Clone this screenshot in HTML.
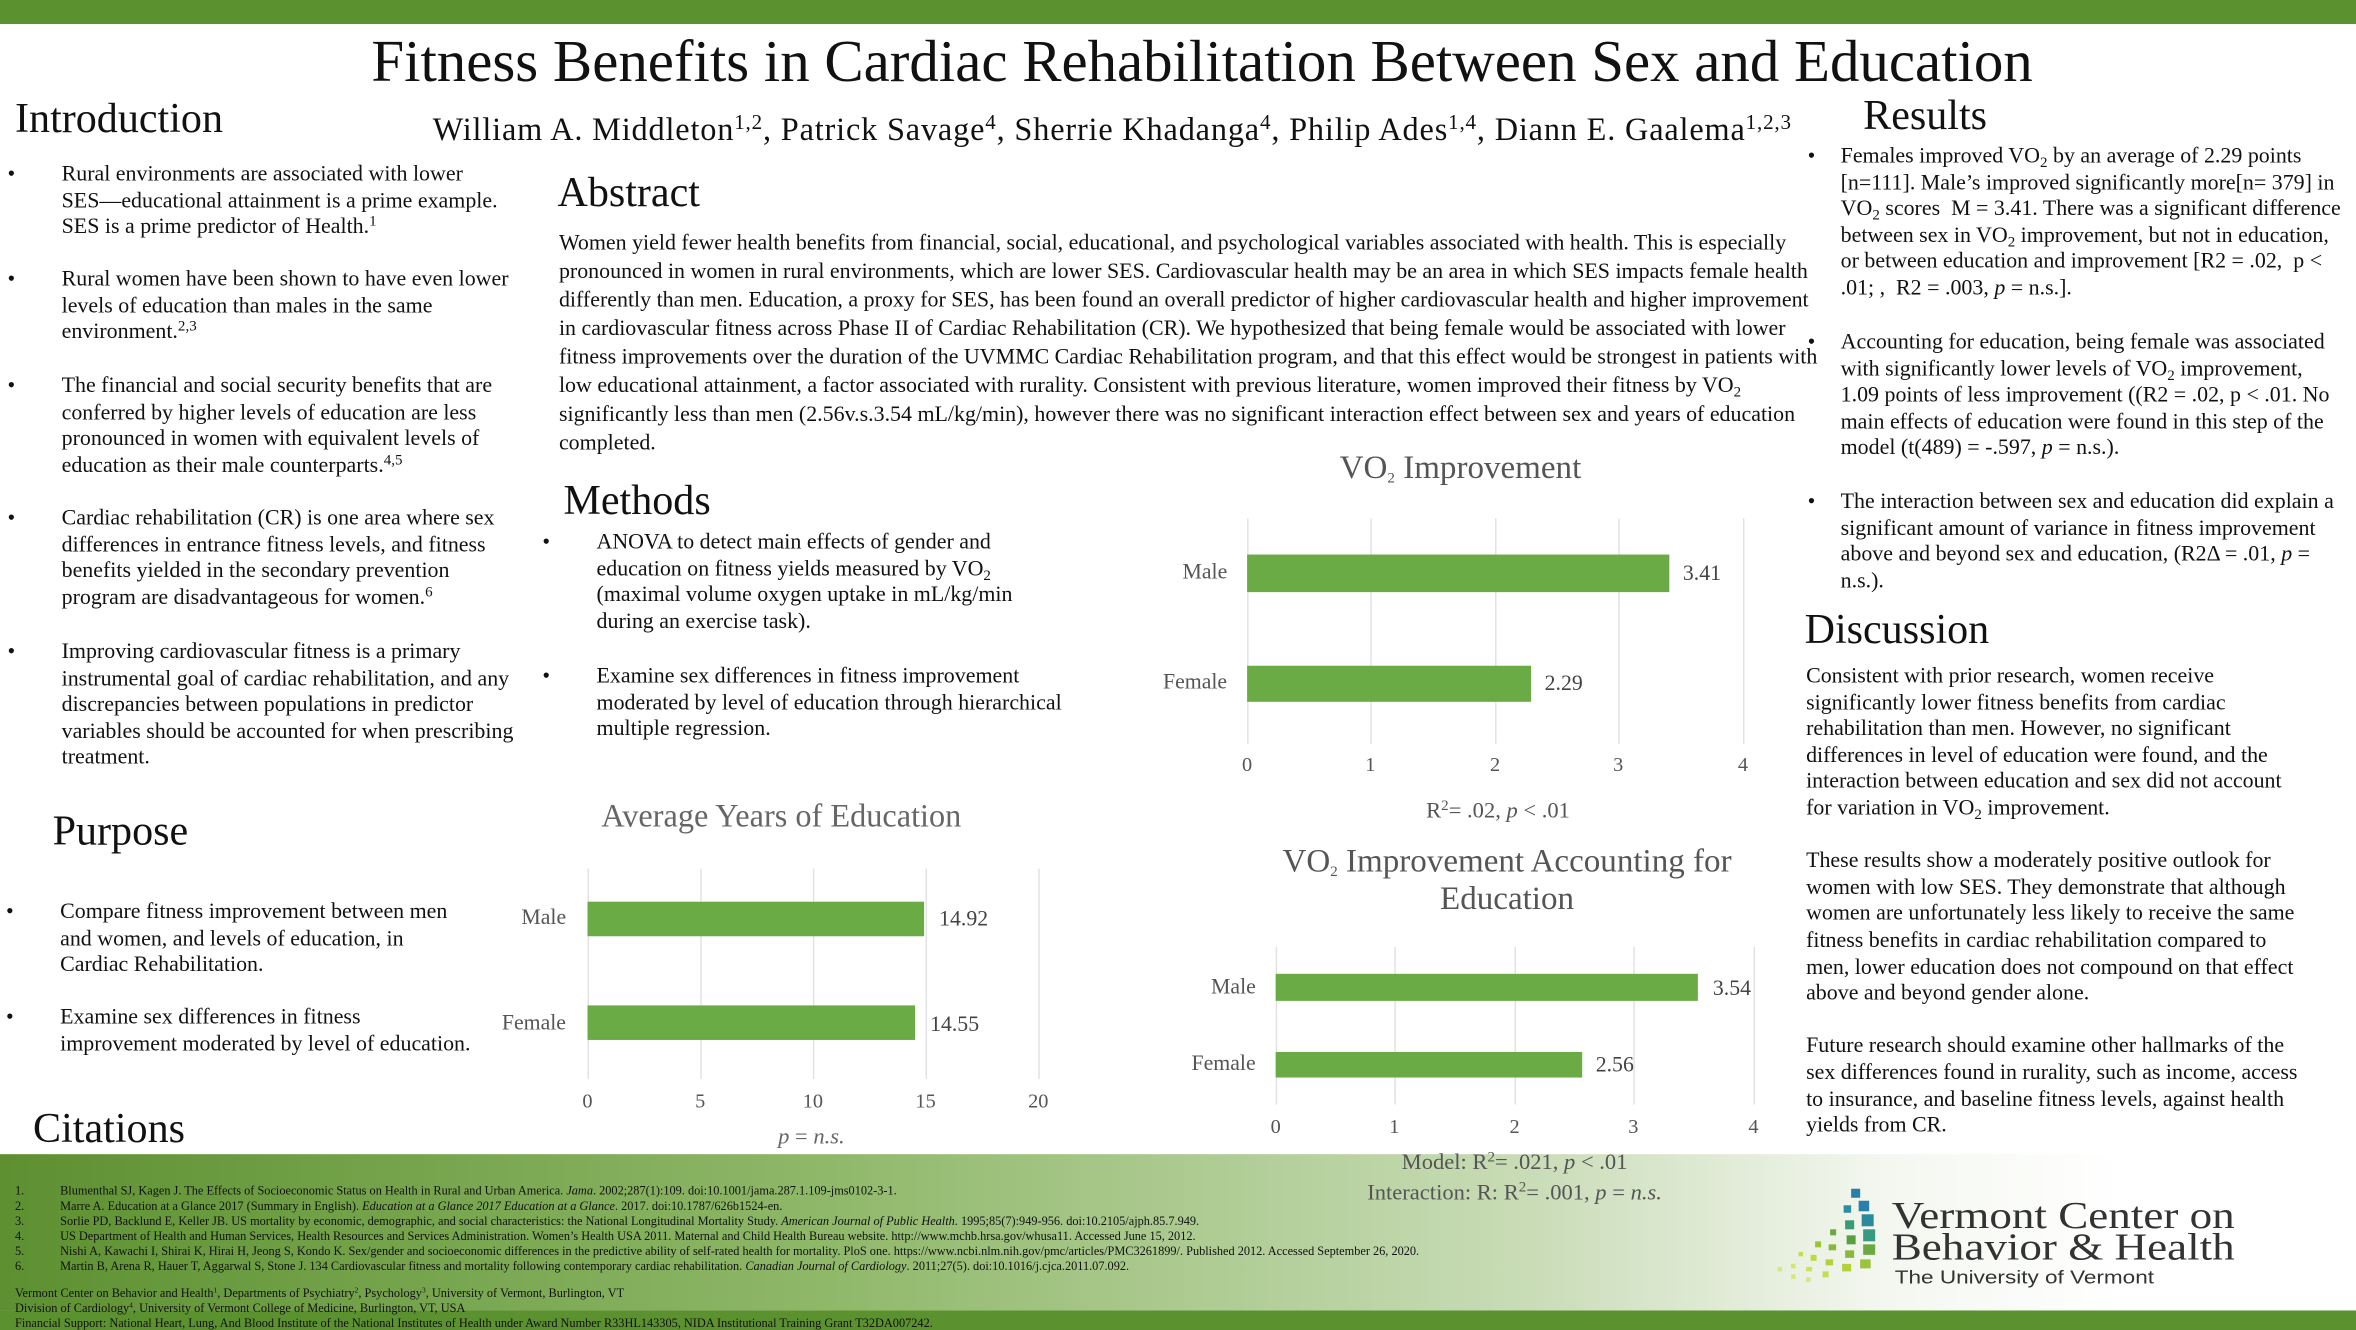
<!DOCTYPE html>
<html><head><meta charset="utf-8"><style>
html,body{margin:0;padding:0;background:#fff;overflow:hidden}
#wrap{width:1568px;height:885px;position:relative;transform:scale(1.50255,1.50282);transform-origin:0 0;font-family:"Liberation Serif",serif;color:#111}
.a{position:absolute}
.h{font-size:28px;line-height:1}
.b{position:absolute;font-size:14.6px;line-height:17.6px}
.b:before{content:"•";position:absolute;left:-36px}
.r:before{left:-22px}
.bar{position:absolute;background:#6aab45}
.tk{position:absolute;font-size:13.5px;color:#555;transform:translateX(-50%)}
.gl{position:absolute;width:1px;background:#e2e2e2}
.lbl{position:absolute;font-size:14.5px;color:#555}
.val{position:absolute;font-size:14.5px;color:#444}
sub{font-size:10px;vertical-align:-3px;line-height:0}
sup{font-size:10px;vertical-align:5px;line-height:0}
.au sup{font-size:14px;vertical-align:7px}
.cit{position:absolute;font-size:8.2px;line-height:10px;color:#111}
.cit sup{font-size:5px;vertical-align:3px}
</style></head><body><div id="wrap">
<div class="a" style="left:0;top:0;width:1568px;height:16px;background:#5b922f"></div>
<div class="a" style="left:0;top:768px;width:1568px;height:104px;background:linear-gradient(90deg,#5d9031 0%,#8fb869 35%,#c9dcb7 65%,#f4f7f0 80%,#fff 90%)"></div>
<div class="a" style="left:0;top:872px;width:1568px;height:13px;background:#5b922f"></div>

<div class="a" style="left:0;width:1600px;top:19px;text-align:center;font-size:39.2px">Fitness Benefits in Cardiac Rehabilitation Between Sex and Education</div>
<div class="a au" style="left:288px;top:74px;font-size:21.5px;letter-spacing:0.55px;white-space:nowrap">William A. Middleton<sup>1,2</sup>, Patrick Savage<sup>4</sup>, Sherrie Khadanga<sup>4</sup>, Philip Ades<sup>1,4</sup>, Diann E. Gaalema<sup>1,2,3</sup></div>

<div class="a h" style="left:10px;top:66px">Introduction</div>
<div class="b" style="left:41px;top:108px;white-space:nowrap">Rural environments are associated with lower<br>SES—educational attainment is a prime example.<br>SES is a prime predictor of Health.<sup>1</sup></div>
<div class="b" style="left:41px;top:178px;width:305px">Rural women have been shown to have even lower levels of education than males in the same environment.<sup>2,3</sup></div>
<div class="b" style="left:41px;top:249px;width:305px">The financial and social security benefits that are conferred by higher levels of education are less pronounced in women with equivalent levels of education as their male counterparts.<sup>4,5</sup></div>
<div class="b" style="left:41px;top:337px;width:305px">Cardiac rehabilitation (CR) is one area where sex differences in entrance fitness levels, and fitness benefits yielded in the secondary prevention program are disadvantageous for women.<sup>6</sup></div>
<div class="b" style="left:41px;top:426px;width:308px">Improving cardiovascular fitness is a primary instrumental goal of cardiac rehabilitation, and any discrepancies between populations in predictor variables should be accounted for when prescribing treatment.</div>

<div class="a h" style="left:35px;top:540px">Purpose</div>
<div class="b" style="left:40px;top:599px;width:268px">Compare fitness improvement between men and women, and levels of education, in Cardiac Rehabilitation.</div>
<div class="b" style="left:40px;top:669px;white-space:nowrap">Examine sex differences in fitness<br>improvement moderated by level of education.</div>
<div class="a h" style="left:22px;top:738px">Citations</div>

<div class="a h" style="left:371px;top:115px">Abstract</div>
<div class="a" style="left:372px;top:153px;width:842px;font-size:14.6px;line-height:19px">Women yield fewer health benefits from financial, social, educational, and psychological variables associated with health. This is especially pronounced in women in rural environments, which are lower SES. Cardiovascular health may be an area in which SES impacts female health differently than men. Education, a proxy for SES, has been found an overall predictor of higher cardiovascular health and higher improvement in cardiovascular fitness across Phase II of Cardiac Rehabilitation (CR). We hypothesized that being female would be associated with lower fitness improvements over the duration of the UVMMC Cardiac Rehabilitation program, and that this effect would be strongest in patients with low educational attainment, a factor associated with rurality. Consistent with previous literature, women improved their fitness by VO<sub>2</sub> significantly less than men (2.56v.s.3.54 mL/kg/min), however there was no significant interaction effect between sex and years of education completed.</div>

<div class="a h" style="left:375px;top:320px">Methods</div>
<div class="b" style="left:397px;top:353px;width:300px">ANOVA to detect main effects of gender and education on fitness yields measured by VO<sub>2</sub> (maximal volume oxygen uptake in mL/kg/min during an exercise task).</div>
<div class="b" style="left:397px;top:442px;width:320px">Examine sex differences in fitness improvement moderated by level of education through hierarchical multiple regression.</div>

<!-- VO2 chart -->
<div class="a" style="left:862px;top:298px;width:220px;text-align:center;font-size:22px;color:#555">VO<sub>2</sub> Improvement</div>
<div class="gl" style="left:830px;top:345px;height:150px"></div><div class="gl" style="left:912px;top:345px;height:150px"></div><div class="gl" style="left:995px;top:345px;height:150px"></div><div class="gl" style="left:1077px;top:345px;height:150px"></div><div class="gl" style="left:1160px;top:345px;height:150px"></div>
<div class="bar" style="left:830px;top:369px;width:281px;height:25px"></div>
<div class="bar" style="left:830px;top:443px;width:189px;height:24px"></div>
<div class="lbl" style="left:787px;top:373px">Male</div><div class="lbl" style="left:774px;top:446px">Female</div>
<div class="val" style="left:1120px;top:374px">3.41</div><div class="val" style="left:1028px;top:447px">2.29</div>
<div class="tk" style="left:830px;top:501px">0</div><div class="tk" style="left:912px;top:501px">1</div><div class="tk" style="left:995px;top:501px">2</div><div class="tk" style="left:1077px;top:501px">3</div><div class="tk" style="left:1160px;top:501px">4</div>
<div class="a" style="left:897px;width:200px;top:532px;text-align:center;font-size:15px;color:#555">R<sup>2</sup>= .02, <i>p</i> &lt; .01</div>

<!-- Education chart -->
<div class="a" style="left:360px;width:320px;top:531px;text-align:center;font-size:21.5px;color:#666">Average Years of Education</div>
<div class="gl" style="left:391px;top:578px;height:140px"></div><div class="gl" style="left:466px;top:578px;height:140px"></div><div class="gl" style="left:541px;top:578px;height:140px"></div><div class="gl" style="left:616px;top:578px;height:140px"></div><div class="gl" style="left:691px;top:578px;height:140px"></div>
<div class="bar" style="left:391px;top:600px;width:224px;height:23px"></div>
<div class="bar" style="left:391px;top:669px;width:218px;height:23px"></div>
<div class="lbl" style="left:347px;top:603px">Male</div><div class="lbl" style="left:334px;top:673px">Female</div>
<div class="val" style="left:625px;top:604px">14.92</div><div class="val" style="left:619px;top:674px">14.55</div>
<div class="tk" style="left:391px;top:725px">0</div><div class="tk" style="left:466px;top:725px">5</div><div class="tk" style="left:541px;top:725px">10</div><div class="tk" style="left:616px;top:725px">15</div><div class="tk" style="left:691px;top:725px">20</div>
<div class="a" style="left:490px;width:100px;top:749px;text-align:center;font-size:15px;color:#666"><i>p</i> = <i>n.s.</i></div>

<!-- VO2 accounting chart -->
<div class="a" style="left:823px;width:360px;top:560px;text-align:center;font-size:22px;line-height:25px;color:#555">VO<sub>2</sub> Improvement Accounting for Education</div>
<div class="gl" style="left:849px;top:630px;height:105px"></div><div class="gl" style="left:928px;top:630px;height:105px"></div><div class="gl" style="left:1008px;top:630px;height:105px"></div><div class="gl" style="left:1087px;top:630px;height:105px"></div><div class="gl" style="left:1167px;top:630px;height:105px"></div>
<div class="bar" style="left:849px;top:648px;width:281px;height:18px"></div>
<div class="bar" style="left:849px;top:700px;width:204px;height:17px"></div>
<div class="lbl" style="left:806px;top:649px">Male</div><div class="lbl" style="left:793px;top:700px">Female</div>
<div class="val" style="left:1140px;top:650px">3.54</div><div class="val" style="left:1062px;top:701px">2.56</div>
<div class="tk" style="left:849px;top:742px">0</div><div class="tk" style="left:928px;top:742px">1</div><div class="tk" style="left:1008px;top:742px">2</div><div class="tk" style="left:1087px;top:742px">3</div><div class="tk" style="left:1167px;top:742px">4</div>
<div class="a" style="left:858px;width:300px;top:764px;text-align:center;font-size:15px;line-height:20px;color:#555">Model: R<sup>2</sup>= .021, <i>p</i> &lt; .01<br>Interaction: R: R<sup>2</sup>= .001, <i>p</i> = <i>n.s.</i></div>

<div class="a h" style="left:1240px;top:64px">Results</div>
<div class="b r" style="left:1225px;top:96px;width:338px">Females improved VO<sub>2</sub> by an average of 2.29 points [n=111]. Male’s improved significantly more[n= 379] in VO<sub>2</sub> scores &nbsp;M = 3.41. There was a significant difference between sex in VO<sub>2</sub> improvement, but not in education, or between education and improvement [R2 = .02, &nbsp;p &lt; .01; , &nbsp;R2 = .003, <i>p</i> = n.s.].</div>
<div class="b r" style="left:1225px;top:220px;width:336px">Accounting for education, being female was associated with significantly lower levels of VO<sub>2</sub> improvement, 1.09 points of less improvement ((R2 = .02, p &lt; .01. No main effects of education were found in this step of the model (t(489) = -.597, <i>p</i> = n.s.).</div>
<div class="b r" style="left:1225px;top:326px;width:336px">The interaction between sex and education did explain a significant amount of variance in fitness improvement above and beyond sex and education, (R2Δ = .01, <i>p</i> = n.s.).</div>

<div class="a h" style="left:1201px;top:406px">Discussion</div>
<div class="a" style="left:1202px;top:442px;width:330px;font-size:14.6px;line-height:17.6px">Consistent with prior research, women receive significantly lower fitness benefits from cardiac rehabilitation than men. However, no significant differences in level of education were found, and the interaction between education and sex did not account for variation in VO<sub>2</sub> improvement.<br><br>These results show a moderately positive outlook for women with low SES. They demonstrate that although women are unfortunately less likely to receive the same fitness benefits in cardiac rehabilitation compared to men, lower education does not compound on that effect above and beyond gender alone.<br><br>Future research should examine other hallmarks of the sex differences found in rurality, such as income, access to insurance, and baseline fitness levels, against health yields from CR.</div>

<div class="cit" style="left:10px;top:788px;white-space:nowrap">
<div>1.<span style="position:absolute;left:30px">Blumenthal SJ, Kagen J. The Effects of Socioeconomic Status on Health in Rural and Urban America. <i>Jama</i>. 2002;287(1):109. doi:10.1001/jama.287.1.109-jms0102-3-1.</span></div>
<div>2.<span style="position:absolute;left:30px">Marre A. Education at a Glance 2017 (Summary in English). <i>Education at a Glance 2017 Education at a Glance</i>. 2017. doi:10.1787/626b1524-en.</span></div>
<div>3.<span style="position:absolute;left:30px">Sorlie PD, Backlund E, Keller JB. US mortality by economic, demographic, and social characteristics: the National Longitudinal Mortality Study. <i>American Journal of Public Health</i>. 1995;85(7):949-956. doi:10.2105/ajph.85.7.949.</span></div>
<div>4.<span style="position:absolute;left:30px">US Department of Health and Human Services, Health Resources and Services Administration. Women’s Health USA 2011. Maternal and Child Health Bureau website. http://www.mchb.hrsa.gov/whusa11. Accessed June 15, 2012.</span></div>
<div>5.<span style="position:absolute;left:30px">Nishi A, Kawachi I, Shirai K, Hirai H, Jeong S, Kondo K. Sex/gender and socioeconomic differences in the predictive ability of self-rated health for mortality. PloS one. https://www.ncbi.nlm.nih.gov/pmc/articles/PMC3261899/. Published 2012. Accessed September 26, 2020.</span></div>
<div>6.<span style="position:absolute;left:30px">Martin B, Arena R, Hauer T, Aggarwal S, Stone J. 134 Cardiovascular fitness and mortality following contemporary cardiac rehabilitation. <i>Canadian Journal of Cardiology</i>. 2011;27(5). doi:10.1016/j.cjca.2011.07.092.</span></div>
</div>
<div class="cit" style="left:10px;top:856px;white-space:nowrap">Vermont Center on Behavior and Health<sup>1</sup>, Departments of Psychiatry<sup>2</sup>, Psychology<sup>3</sup>, University of Vermont, Burlington, VT<br>Division of Cardiology<sup>4</sup>, University of Vermont College of Medicine, Burlington, VT, USA<br>Financial Support: National Heart, Lung, And Blood Institute of the National Institutes of Health under Award Number R33HL143305, NIDA Institutional Training Grant T32DA007242.</div>

<!-- logo -->
<svg class="a" style="left:1175px;top:788px" width="80" height="70" viewBox="0 0 80 70">
<g><rect x="57" y="3" width="6" height="6" fill="#2a7fa8"/><rect x="62" y="11" width="7" height="7" fill="#2a80a8"/><rect x="64" y="20" width="8" height="8" fill="#2b8a9c"/><rect x="52" y="14" width="5" height="5" fill="#2e8ea0"/><rect x="65" y="30" width="8" height="8" fill="#389a80"/><rect x="53" y="24" width="6" height="6" fill="#3a9a78"/><rect x="65" y="40" width="8" height="7" fill="#6aaa40"/><rect x="54" y="34" width="6" height="6" fill="#5aa040"/><rect x="43" y="30" width="4" height="4" fill="#6aa845"/><rect x="63" y="50" width="7" height="6" fill="#9cc43a"/><rect x="53" y="44" width="6" height="5" fill="#8ab83c"/><rect x="42" y="40" width="5" height="4" fill="#8ab83c"/><rect x="33" y="38" width="4" height="4" fill="#9cc43a"/><rect x="51" y="53" width="6" height="5" fill="#b5d03a"/><rect x="40" y="50" width="5" height="4" fill="#b5d03a"/><rect x="30" y="47" width="4" height="4" fill="#c2d840"/><rect x="22" y="45" width="3" height="3" fill="#c8dc50"/><rect x="38" y="58" width="4" height="4" fill="#c8dc50"/><rect x="27" y="55" width="4" height="3" fill="#cfe060"/><rect x="17" y="53" width="3" height="3" fill="#d4e470"/><rect x="8" y="55" width="3" height="3" fill="#d8e680"/><rect x="17" y="60" width="3" height="3" fill="#d8e680"/><rect x="27" y="62" width="3" height="3" fill="#d8e680"/></g></svg>
<div class="a" style="left:1259px;top:799px;font-family:'Liberation Serif',serif;font-size:25px;line-height:21px;color:#333;white-space:nowrap;transform:scaleX(1.2);transform-origin:0 0">Vermont Center on<br>Behavior &amp; Health</div>
<div class="a" style="left:1261px;top:843px;font-family:'Liberation Sans',sans-serif;font-size:12.5px;color:#333;white-space:nowrap;transform:scaleX(1.2);transform-origin:0 0">The University of Vermont</div>
</div></body></html>
